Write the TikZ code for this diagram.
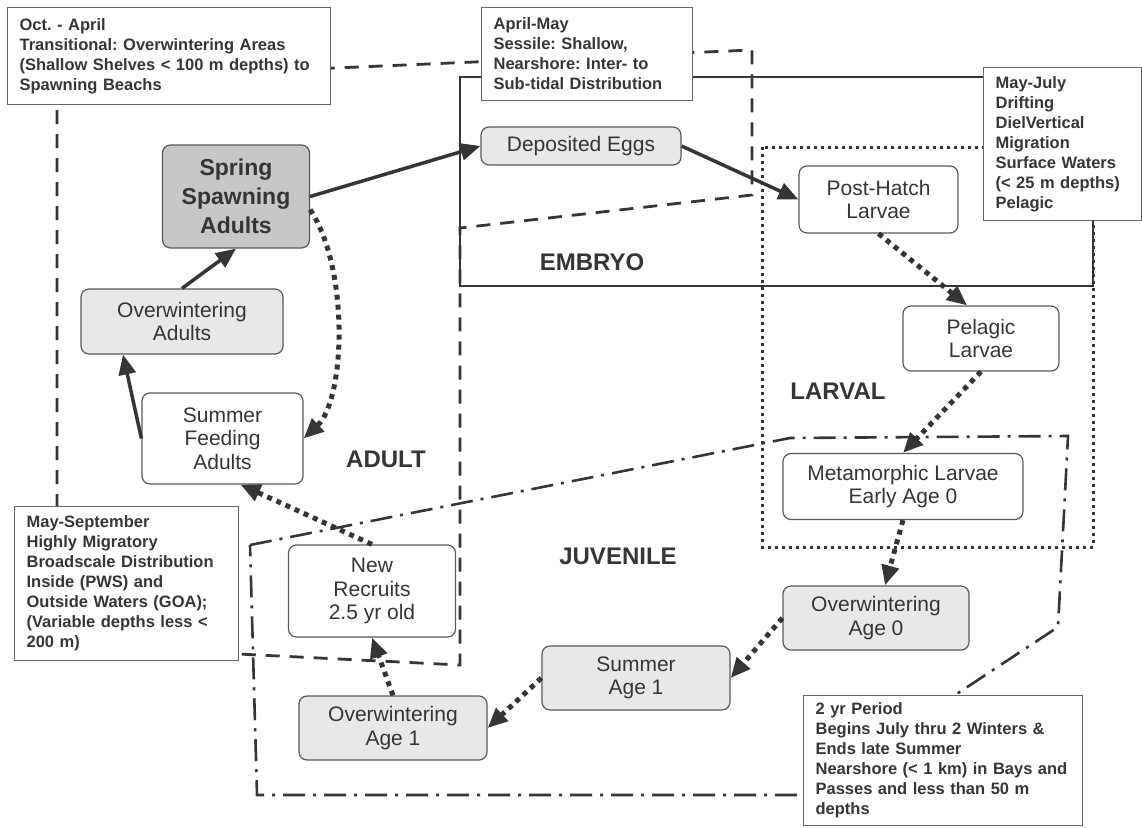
\documentclass[tikz,border=0pt]{standalone}
\usepackage{fontspec}
\setmainfont{Liberation Sans}
\usepackage{xcolor}
\usepackage{tikz}
\usetikzlibrary{arrows.meta}
\definecolor{ink}{HTML}{353535}
\frenchspacing

\begin{document}
\begin{tikzpicture}[
    x=1pt, y=-1pt,
    stage/.style={draw=black!65, line width=1.2pt, rounded corners=8pt, align=center,
                  font=\fontsize{21}{23.5}\selectfont, text=ink, inner sep=2pt, fill=white},
    shaded/.style={stage, fill=black!9},
    note/.style={draw=black!60, line width=1.2pt, fill=white, anchor=north west, align=left,
                 font=\bfseries\fontsize{16.5}{20}\selectfont, text=ink,
                 inner xsep=12pt, inner ysep=0pt},
    phase/.style={font=\bfseries\fontsize{24}{27}\selectfont, text=ink},
    arr/.style={-{Triangle[length=20pt,width=17pt]}, line width=3.5pt, draw=ink},
    dotarr/.style={arr, line width=5pt, dash pattern=on 5pt off 5pt},
    adultline/.style={draw=ink, line width=2.8pt, dash pattern=on 14pt off 10pt},
    embryoline/.style={draw=ink, line width=2.6pt},
    larvalline/.style={draw=ink, line width=3pt, dash pattern=on 3pt off 4pt},
    juvline/.style={draw=ink, line width=2.6pt, dash pattern=on 22pt off 8pt on 3pt off 8pt},
]
\useasboundingbox (0,0) rectangle (1142,827);

\draw[adultline] (57,80) -- (752,50) -- (752,195) -- (460,228) -- (460,665) -- (57,645) -- cycle;
\draw[embryoline] (460,77) rectangle (1093,286);
\draw[larvalline] (762,147) rectangle (1093,547);
\draw[juvline] (250,545) -- (790,438) -- (1068,436) -- (1058,627) -- (940,705) -- (940,795) -- (257,795) -- cycle;

\node[note, text width=299pt, minimum height=97pt] (octapr) at (7,7)
    {Oct. - April\\Transitional: Overwintering Areas\\(Shallow Shelves < 100 m depths) to\\Spawning Beachs};
\node[note, text width=187pt, minimum height=93pt] (aprmay) at (481,7)
    {April-May\\Sessile: Shallow,\\Nearshore: Inter- to\\Sub-tidal Distribution};
\node[note, text width=134pt, minimum height=153pt] (mayjul) at (983,67)
    {May-July\\Drifting\\DielVertical\\Migration\\Surface Waters\\(< 25 m depths)\\Pelagic};
\node[note, text width=200pt, minimum height=154pt] (maysep) at (14,506)
    {May-September\\Highly Migratory\\Broadscale Distribution\\Inside (PWS) and\\Outside Waters (GOA);\\(Variable depths less <\\200 m)};
\node[note, text width=255pt, minimum height=130pt] (twoyr) at (803,695)
    {2 yr Period\\Begins July thru 2 Winters \&\\Ends late Summer\\Nearshore (< 1 km) in Bays and\\Passes and less than 50 m\\depths};

\node[phase] (embryo) at (592,262) {EMBRYO};
\node[phase] (adult) at (386,459) {ADULT};
\node[phase] (larval) at (838,391) {LARVAL};
\node[phase] (juvenile) at (618,556) {JUVENILE};

\node[shaded, fill=black!22, minimum width=147pt, minimum height=103pt,
      font=\bfseries\fontsize{23}{29}\selectfont] (spawn) at (236,196.5) {Spring\\Spawning\\Adults};
\node[shaded, minimum width=202pt, minimum height=65pt] (owadult) at (182,321.5) {Overwintering\\Adults};
\node[stage, minimum width=161pt, minimum height=91pt] (feed) at (222.5,438.5) {Summer\\Feeding\\Adults};
\node[shaded, minimum width=200pt, minimum height=38pt] (eggs) at (581,146) {Deposited Eggs};
\node[stage, minimum width=159pt, minimum height=67pt] (posthatch) at (878.5,199.5) {Post-Hatch\\Larvae};
\node[stage, minimum width=156pt, minimum height=65pt] (pelagic) at (981,338.5) {Pelagic\\Larvae};
\node[stage, minimum width=240pt, minimum height=66pt] (meta) at (903,486.5) {Metamorphic Larvae\\Early Age 0};
\node[shaded, minimum width=186pt, minimum height=64pt] (owage0) at (876,618) {Overwintering\\Age 0};
\node[shaded, minimum width=188pt, minimum height=64pt] (sumage1) at (636,678) {Summer\\Age 1};
\node[shaded, minimum width=188pt, minimum height=64pt] (owage1) at (393,728) {Overwintering\\Age 1};
\node[stage, minimum width=167pt, minimum height=92pt] (recruits) at (372,591) {New\\Recruits\\2.5 yr old};

\draw[arr] (spawn.east) -- (eggs.west);
\draw[arr] (eggs.east) -- (posthatch.west);
\draw[arr] (owadult.north) -- (spawn.south);
\draw[arr] (feed.west) -- ([xshift=-59pt]owadult.south);
\draw[dotarr] (spawn.-10) .. controls (350,270) and (345,400) .. (feed.east);
\draw[dotarr] (recruits.north) -- ([xshift=18pt]feed.south);
\draw[dotarr] (posthatch.south) -- ([xshift=-14pt]pelagic.north);
\draw[dotarr] (pelagic.south) -- (meta.north);
\draw[dotarr] (meta.south) -- ([xshift=9pt]owage0.north);
\draw[dotarr] (owage0.west) -- (sumage1.east);
\draw[dotarr] (sumage1.west) -- (owage1.east);
\draw[dotarr] (owage1.north) -- (recruits.south);
\end{tikzpicture}
\end{document}
